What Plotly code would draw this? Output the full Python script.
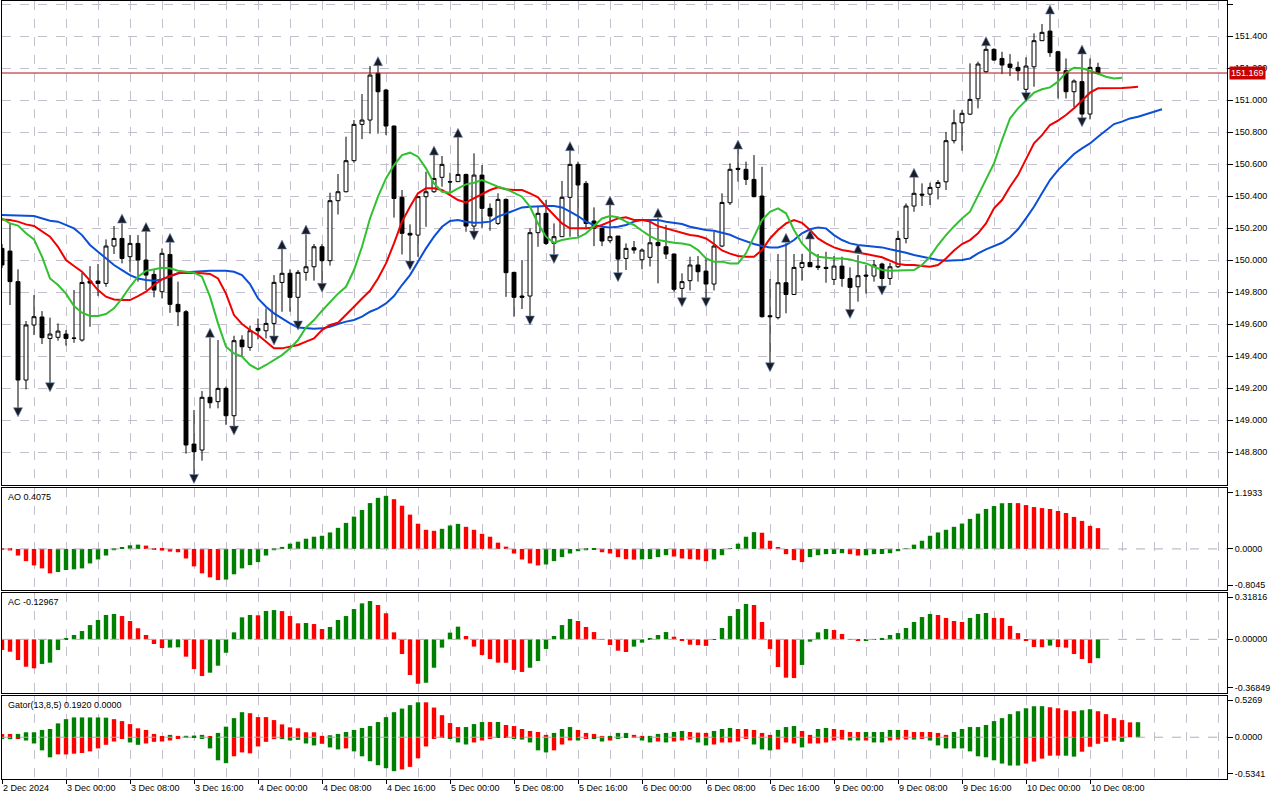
import plotly.graph_objects as go

# ---------------- data ----------------
time_labels = ["2 Dec 2024", "3 Dec 00:00", "3 Dec 08:00", "3 Dec 16:00", "4 Dec 00:00",
               "4 Dec 08:00", "4 Dec 16:00", "5 Dec 00:00", "5 Dec 08:00", "5 Dec 16:00",
               "6 Dec 00:00", "6 Dec 08:00", "6 Dec 16:00", "9 Dec 00:00", "9 Dec 08:00",
               "9 Dec 16:00", "10 Dec 00:00", "10 Dec 08:00"]
time_label_bars = [0, 8, 16, 24, 32, 40, 48, 56, 64, 72, 80, 88, 96, 104, 112, 120, 128, 136]

opens = [150.073, 150.056, 149.865, 149.25, 149.594, 149.644, 149.51, 149.517, 149.537, 149.51,
         149.50, 149.869, 149.869, 149.854, 150.0875, 150.135, 150.021, 150.104, 150.0, 149.91,
         149.802, 150.035, 149.723, 149.677, 148.85, 148.8125, 149.142, 149.115, 149.198, 149.027,
         149.5, 149.454, 149.573, 149.558, 149.604, 149.86, 149.917, 149.767, 149.923, 149.958,
         150.083, 149.996, 150.371, 150.427, 150.621, 150.848, 150.875, 151.167, 151.0625, 150.8375,
         150.392, 150.167, 150.156, 150.396, 150.427, 150.517, 150.49, 150.49, 150.535, 150.2125,
         150.531, 150.323, 150.229, 150.379, 149.923, 149.775, 149.775, 150.171, 150.292, 150.104,
         150.146, 150.392, 150.598, 150.479, 150.244, 150.198, 150.121, 150.15, 150.01, 150.077,
         150.002, 150.017, 150.11, 150.083, 150.0375, 149.823, 149.871, 149.969, 149.931, 149.85,
         150.0875, 150.358, 150.573, 150.567, 150.504, 150.4, 149.652, 149.64, 149.858, 149.785,
         149.954, 149.985, 149.962, 149.954, 149.879, 149.962, 149.885, 149.833, 149.906, 149.9,
         149.975, 149.885, 149.958, 150.135, 150.3375, 150.412, 150.412, 150.454, 150.489, 150.746,
         150.858, 150.912, 151.008, 151.177, 151.317, 151.26, 151.225, 151.204, 151.067, 151.208,
         151.371, 151.431, 151.302, 151.183, 151.052, 151.115, 150.9125, 151.204]
highs = [150.10, 150.229, 149.942, 149.619, 149.781, 149.681, 149.64, 149.604, 149.5625, 149.8125,
         149.92, 149.962, 149.975, 150.129, 150.2125, 150.229, 150.156, 150.156, 150.181, 149.9375,
         150.073, 150.11, 149.865, 149.6875, 149.0625, 149.181, 149.515, 149.5, 149.21, 149.527,
         149.53, 149.5896, 149.635, 149.698, 149.906, 150.073, 149.942, 149.9375, 150.16, 150.1,
         150.1, 150.421, 150.5375, 150.771, 150.875, 151.0375, 151.2125, 151.24, 151.07, 150.84,
         150.4375, 150.223, 150.40, 150.552, 150.66, 150.65, 150.546, 150.771, 150.54, 150.667,
         150.594, 150.354, 150.417, 150.385, 149.925, 150.0, 150.198, 150.333, 150.375, 150.229,
         150.494, 150.6875, 150.615, 150.494, 150.329, 150.2, 150.344, 150.15, 150.104, 150.119,
         150.073, 150.25, 150.27, 150.219, 150.04, 149.917, 150.021, 150.025, 150.01, 150.177,
         150.417, 150.604, 150.698, 150.615, 150.656, 150.583, 149.881, 150.0375, 150.108, 150.0375,
         150.0375, 150.135, 150.0375, 150.052, 150.025, 150.021, 149.954, 150.031, 149.969, 150.0,
         149.983, 149.983, 150.183, 150.354, 150.521, 150.479, 150.483, 150.5, 150.80, 150.94,
         150.937, 151.229, 151.24, 151.344, 151.323, 151.302, 151.287, 151.24, 151.267, 151.417,
         151.475, 151.5375, 151.308, 151.26, 151.129, 151.288, 151.26, 151.233]
lows = [149.95, 149.719, 149.0625, 149.192, 149.531, 149.475, 149.2125, 149.496, 149.465, 149.483,
        149.49, 149.583, 149.775, 149.833, 150.0375, 149.979, 149.927, 149.865, 149.8125, 149.767,
        149.76, 149.67, 149.587, 148.79, 148.615, 148.746, 149.073, 149.073, 148.97, 148.954,
        149.396, 149.433, 149.504, 149.51, 149.51, 149.677, 149.677, 149.604, 149.871, 149.871,
        149.844, 149.965, 150.285, 150.423, 150.608, 150.756, 150.79, 150.79, 150.781, 150.265,
        150.035, 149.979, 150.02, 150.208, 150.42, 150.458, 150.417, 150.49, 150.177, 150.173,
        150.198, 150.183, 150.219, 149.77, 149.646, 149.694, 149.635, 150.083, 150.094, 150.025,
        150.146, 150.146, 150.146, 150.192, 150.087, 150.087, 150.108, 149.91, 149.9375, 150.04,
        149.942, 149.96, 149.854, 150.006, 149.802, 149.76, 149.81, 149.865, 149.76, 149.81,
        150.08, 150.344, 150.49, 150.469, 150.392, 149.64, 149.344, 149.629, 149.667, 149.781,
        149.871, 149.958, 149.9375, 149.858, 149.844, 149.833, 149.677, 149.74, 149.79, 149.865,
        149.823, 149.844, 149.95, 150.104, 150.302, 150.3375, 150.344, 150.379, 150.4375, 150.729,
        150.683, 150.906, 150.948, 151.17, 151.245, 151.162, 151.15, 151.121, 151.031, 151.083,
        151.37, 151.27, 151.01, 151.01, 150.954, 150.879, 150.879, 151.16]
closes = [149.969, 149.865, 149.25, 149.594, 149.646, 149.515, 149.5375, 149.556, 149.51, 149.512,
          149.86, 149.856, 149.854, 150.0875, 150.135, 150.01, 150.104, 150.0, 149.906, 149.8125,
          150.042, 149.723, 149.677, 148.844, 148.802, 149.142, 149.108, 149.198, 149.027, 149.496,
          149.458, 149.558, 149.558, 149.604, 149.8604, 149.917, 149.767, 149.923, 149.958, 150.083,
          149.996, 150.371, 150.427, 150.621, 150.848, 150.875, 151.156, 151.052, 150.8375, 150.385,
          150.167, 150.156, 150.396, 150.427, 150.51, 150.598, 150.488, 150.535, 150.2125, 150.531,
          150.323, 150.275, 150.379, 149.921, 149.767, 149.767, 150.171, 150.292, 150.104, 150.146,
          150.392, 150.598, 150.469, 150.229, 150.198, 150.119, 150.146, 150.006, 150.073, 150.0625,
          150.0625, 150.108, 150.09, 150.0375, 149.817, 149.865, 149.969, 149.927, 149.85, 150.0875,
          150.36, 150.567, 150.567, 150.504, 150.396, 149.646, 149.646, 149.858, 149.785, 149.954,
          149.985, 149.958, 149.954, 149.948, 149.962, 149.885, 149.829, 149.902, 149.9, 149.969,
          149.885, 149.958, 150.135, 150.3375, 150.417, 150.406, 150.454, 150.485, 150.746, 150.858,
          150.917, 151.004, 151.225, 151.317, 151.25, 151.219, 151.204, 151.183, 151.2125, 151.371,
          151.423, 151.296, 151.183, 151.052, 151.119, 150.9125, 151.204, 151.169]

jaw = [150.281, 150.281, 150.279, 150.277, 150.275, 150.26, 150.246, 150.24, 150.219, 150.198,
       150.156, 150.094, 150.052, 150.01, 149.969, 149.9375, 149.906, 149.885, 149.875, 149.871,
       149.879, 149.896, 149.917, 149.923, 149.927, 149.931, 149.933, 149.933, 149.933, 149.927,
       149.906, 149.85, 149.76, 149.708, 149.667, 149.635, 149.604, 149.579, 149.573, 149.571,
       149.573, 149.583, 149.6, 149.615, 149.625, 149.646, 149.677, 149.698, 149.729, 149.775,
       149.844, 149.906, 149.99, 150.073, 150.146, 150.208, 150.244, 150.25, 150.24, 150.233,
       150.235, 150.24, 150.271, 150.292, 150.3125, 150.329, 150.333, 150.3375, 150.3375, 150.3375,
       150.329, 150.302, 150.275, 150.24, 150.219, 150.208, 150.204, 150.208, 150.219, 150.24,
       150.25, 150.25, 150.25, 150.24, 150.233, 150.225, 150.208, 150.198, 150.1875, 150.183,
       150.169, 150.158, 150.135, 150.115, 150.1, 150.0875, 150.079, 150.079, 150.094, 150.125,
       150.167, 150.192, 150.204, 150.198, 150.156, 150.125, 150.104, 150.094, 150.0875, 150.083,
       150.079, 150.067, 150.058, 150.046, 150.031, 150.021, 150.01, 150.0, 149.996, 149.998,
       150.0, 150.01, 150.042, 150.067, 150.0875, 150.108, 150.142, 150.192, 150.26, 150.333,
       150.417, 150.5, 150.562, 150.615, 150.6625, 150.698, 150.729, 150.771, 150.8125, 150.85,
       150.865, 150.885, 150.896, 150.9125, 150.927, 150.942]
teeth = [150.254, 150.25, 150.24, 150.223, 150.2125, 150.177, 150.146, 150.083, 150.0, 149.9625,
         149.927, 149.871, 149.8125, 149.771, 149.754, 149.75, 149.75, 149.775, 149.802, 149.844,
         149.879, 149.9, 149.917, 149.921, 149.921, 149.917, 149.913, 149.885, 149.79, 149.656,
         149.6, 149.5625, 149.531, 149.49, 149.448, 149.448, 149.458, 149.469, 149.49, 149.51,
         149.5625, 149.594, 149.608, 149.656, 149.708, 149.76, 149.808, 149.885, 149.979, 150.104,
         150.24, 150.333, 150.417, 150.448, 150.448, 150.4375, 150.406, 150.375, 150.36, 150.385,
         150.412, 150.4375, 150.454, 150.442, 150.4375, 150.4375, 150.417, 150.392, 150.333, 150.281,
         150.229, 150.198, 150.198, 150.198, 150.204, 150.219, 150.24, 150.26, 150.267, 150.25,
         150.25, 150.24, 150.212, 150.198, 150.183, 150.167, 150.156, 150.15, 150.135, 150.1,
         150.06, 150.04, 150.025, 150.021, 150.021, 150.0625, 150.135, 150.1875, 150.229, 150.25,
         150.233, 150.1875, 150.135, 150.104, 150.079, 150.0625, 150.052, 150.046, 150.0375, 150.025,
         150.017, 149.996, 149.975, 149.969, 149.969, 149.9625, 149.958, 149.969, 150.01, 150.06,
         150.1, 150.125, 150.167, 150.229, 150.323, 150.375, 150.458, 150.531, 150.635, 150.729,
         150.781, 150.844, 150.871, 150.906, 150.948, 151.0, 151.046, 151.073, 151.073, 151.073,
         151.075, 151.079, 151.083]
lips = [150.26, 150.229, 150.215, 150.167, 150.129, 150.021, 149.885, 149.844, 149.79, 149.7125,
        149.671, 149.65, 149.65, 149.6625, 149.698, 149.76, 149.833, 149.896, 149.9325, 149.94,
        149.952, 149.948, 149.933, 149.927, 149.921, 149.896, 149.771, 149.604, 149.458, 149.417,
        149.396, 149.344, 149.317, 149.344, 149.375, 149.406, 149.448, 149.5, 149.579, 149.625,
        149.683, 149.74, 149.79, 149.833, 149.9375, 150.083, 150.26, 150.396, 150.51, 150.594,
        150.656, 150.671, 150.646, 150.573, 150.479, 150.427, 150.42, 150.448, 150.473, 150.483,
        150.5, 150.479, 150.458, 150.444, 150.421, 150.396, 150.333, 150.229, 150.146, 150.108,
        150.125, 150.135, 150.14, 150.167, 150.2125, 150.26, 150.275, 150.267, 150.24, 150.219,
        150.183, 150.15, 150.125, 150.115, 150.108, 150.104, 150.094, 150.0625, 150.01, 149.99,
        149.99, 149.979, 149.979, 150.042, 150.146, 150.25, 150.302, 150.323, 150.292, 150.1875,
        150.104, 150.052, 150.021, 150.015, 150.01, 150.01, 150.004, 149.99, 149.979, 149.958,
        149.9375, 149.933, 149.933, 149.933, 149.9375, 149.969, 150.021, 150.094, 150.156, 150.21,
        150.26, 150.302, 150.406, 150.51, 150.604, 150.75, 150.885, 150.948, 151.0, 151.046,
        151.067, 151.079, 151.115, 151.171, 151.202, 151.198, 151.183, 151.162, 151.146, 151.135,
        151.14]

fractal_up_bars = [15, 18, 21, 26, 35, 38, 47, 54, 57, 71, 76, 82, 92, 98, 101, 107, 114, 123, 131, 135]
fractal_up_price = [150.2875, 150.235, 150.167, 149.573, 150.125, 150.219, 151.271, 150.7125, 150.823, 150.74,
                    150.40, 150.323, 150.75, 150.167, 150.1875, 150.10, 150.573, 151.396, 151.594, 151.344]
fractal_dn_bars = [2, 6, 24, 29, 34, 37, 40, 51, 59, 66, 69, 77, 85, 88, 96, 106, 110, 128, 135]
fractal_dn_price = [149.021, 149.177, 148.604, 148.906, 149.469, 149.5625, 149.798, 149.9375, 150.125, 149.594,
                    149.979, 149.865, 149.708, 149.708, 149.302, 149.635, 149.781, 150.99, 150.833]

ao = [-0.005, -0.03, -0.129, -0.239, -0.323, -0.381, -0.478, -0.452, -0.413, -0.40,
      -0.381, -0.284, -0.207, -0.129, -0.026, 0.019, 0.071, 0.084, 0.065, -0.003,
      -0.032, -0.052, -0.065, -0.187, -0.342, -0.478, -0.556, -0.61, -0.60, -0.497,
      -0.381, -0.317, -0.258, -0.129, -0.026, 0.039, 0.103, 0.142, 0.20, 0.239,
      0.258, 0.323, 0.413, 0.51, 0.633, 0.762, 0.898, 1.001, 1.04, 0.975,
      0.846, 0.672, 0.494, 0.375, 0.355, 0.394, 0.459, 0.491, 0.433, 0.375,
      0.297, 0.239, 0.123, 0.045, -0.09, -0.207, -0.284, -0.323, -0.304, -0.239,
      -0.161, -0.09, -0.045, -0.026, -0.019, -0.065, -0.09, -0.161, -0.2, -0.21,
      -0.205, -0.198, -0.161, -0.123, -0.149, -0.187, -0.2, -0.21, -0.239, -0.207,
      -0.123, 0.003, 0.103, 0.239, 0.329, 0.317, 0.161, 0.026, -0.103, -0.22,
      -0.258, -0.161, -0.123, -0.103, -0.10, -0.084, -0.103, -0.13, -0.125, -0.103,
      -0.10, -0.084, -0.045, 0.003, 0.084, 0.161, 0.258, 0.323, 0.375, 0.433,
      0.497, 0.588, 0.691, 0.782, 0.84, 0.895, 0.90, 0.897, 0.859, 0.82,
      0.80, 0.782, 0.743, 0.704, 0.627, 0.549, 0.452, 0.4075]
ac = [-0.073, -0.085, -0.142, -0.188, -0.199, -0.169, -0.16, -0.073, 0.004, 0.03,
      0.057, 0.098, 0.133, 0.167, 0.174, 0.16, 0.126, 0.076, 0.03, -0.032,
      -0.06, -0.057, -0.055, -0.119, -0.204, -0.252, -0.229, -0.181, -0.092, 0.048,
      0.151, 0.167, 0.165, 0.195, 0.201, 0.194, 0.16, 0.11, 0.112, 0.105,
      0.071, 0.085, 0.133, 0.16, 0.208, 0.247, 0.263, 0.236, 0.179, 0.048,
      -0.101, -0.245, -0.305, -0.298, -0.195, -0.057, 0.046, 0.087, 0.023, -0.05,
      -0.108, -0.135, -0.16, -0.161, -0.21, -0.224, -0.195, -0.149, -0.066, 0.023,
      0.098, 0.14, 0.126, 0.085, 0.05, 0.002, -0.039, -0.078, -0.087, -0.05,
      -0.023, 0.005, 0.03, 0.05, 0.018, -0.011, -0.037, -0.04, -0.045, 0.002,
      0.078, 0.16, 0.208, 0.243, 0.236, 0.119, -0.066, -0.19, -0.263, -0.266,
      -0.176, -0.016, 0.048, 0.071, 0.064, 0.037, -0.002, -0.011, -0.009, 0.002,
      0.009, 0.03, 0.043, 0.078, 0.119, 0.153, 0.174, 0.167, 0.147, 0.126,
      0.119, 0.147, 0.174, 0.181, 0.147, 0.146, 0.092, 0.043, -0.011, -0.053,
      -0.054, -0.043, -0.053, -0.057, -0.101, -0.135, -0.163, -0.12967]

gator_up = [0.04, 0.042, 0.042, 0.063, 0.063, 0.093, 0.105, 0.177, 0.231, 0.253,
            0.253, 0.253, 0.253, 0.25, 0.231, 0.206, 0.168, 0.114, 0.093, 0.042,
            0.008, 0.03, 0.017, 0.018, 0.021, 0.03, 0.008, 0.055, 0.135, 0.244,
            0.32, 0.307, 0.257, 0.257, 0.219, 0.164, 0.126, 0.114, 0.063, 0.063,
            0.017, 0.025, 0.042, 0.067, 0.093, 0.118, 0.143, 0.194, 0.257, 0.32,
            0.366, 0.41, 0.446, 0.446, 0.379, 0.282, 0.181, 0.13, 0.13, 0.168,
            0.194, 0.194, 0.195, 0.156, 0.143, 0.105, 0.08, 0.067, 0.03, 0.055,
            0.105, 0.13, 0.093, 0.055, 0.042, 0.017, 0.017, 0.055, 0.055, 0.03,
            0.017, 0.017, 0.042, 0.055, 0.067, 0.08, 0.067, 0.059, 0.055, 0.08,
            0.105, 0.118, 0.105, 0.105, 0.093, 0.055, 0.03, 0.093, 0.13, 0.143,
            0.08, 0.03, 0.105, 0.118, 0.105, 0.093, 0.067, 0.067, 0.067, 0.067,
            0.067, 0.093, 0.093, 0.093, 0.067, 0.067, 0.067, 0.055, 0.03, 0.067,
            0.105, 0.13, 0.13, 0.156, 0.206, 0.244, 0.295, 0.332, 0.37, 0.396,
            0.397, 0.383, 0.37, 0.345, 0.332, 0.345, 0.358, 0.332, 0.295, 0.244,
            0.219, 0.19, 0.192]
gator_up_colors = ("rrgggggggg" "ggggrrrrrr" "rgrgggrggg" "grrrrrrrrr" "rggggggggg"
                   "gggrrrrrgg" "grgrrrrrrg" "ggrrrrgggr" "rgggggrrrg" "ggrrrrrggg"
                   "rrggrrrrgg" "gggrrrrrrg" "gggggggggg" "grrrrggrrr" "rrg")
gator_dn = [0.02, 0.025, 0.017, 0.042, 0.08, 0.168, 0.257, 0.219, 0.22, 0.21,
            0.202, 0.181, 0.143, 0.097, 0.055, 0.017, 0.067, 0.097, 0.08, 0.059,
            0.055, 0.042, 0.017, 0.008, 0.004, 0.017, 0.143, 0.295, 0.332, 0.244,
            0.194, 0.206, 0.118, 0.059, 0.025, 0.025, 0.042, 0.034, 0.08, 0.105,
            0.084, 0.13, 0.156, 0.143, 0.181, 0.244, 0.307, 0.358, 0.396, 0.434,
            0.412, 0.379, 0.27, 0.118, 0.017, 0.004, 0.017, 0.067, 0.093, 0.067,
            0.042, 0.017, 0.004, 0.008, 0.017, 0.03, 0.067, 0.168, 0.194, 0.168,
            0.093, 0.042, 0.042, 0.017, 0.017, 0.055, 0.042, 0.017, 0.008, 0.008,
            0.042, 0.067, 0.055, 0.067, 0.055, 0.042, 0.03, 0.067, 0.105, 0.093,
            0.067, 0.067, 0.055, 0.017, 0.093, 0.156, 0.168, 0.156, 0.067, 0.08,
            0.13, 0.08, 0.08, 0.067, 0.042, 0.03, 0.042, 0.042, 0.042, 0.067,
            0.067, 0.042, 0.03, 0.03, 0.03, 0.017, 0.042, 0.105, 0.143, 0.143,
            0.143, 0.181, 0.244, 0.257, 0.295, 0.337, 0.362, 0.362, 0.337, 0.311,
            0.274, 0.236, 0.235, 0.236, 0.248, 0.185, 0.122, 0.084, 0.059, 0.042,
            0.059]
gator_dn_colors = ("ggrggggrrr" "rrrrrrggrr" "rrrrrggggr" "rrrrrggggg" "rggrgggggg"
                   "rrrrrrgggr" "rrrggggggr" "rrgrggrgrr" "ggrgrrrggr" "rrrrgggrrr"
                   "grrrrrggrg" "grrrgrgggg" "ggggggggrr" "rrrggrrrrr" "g")

ao_range = [-0.8045, 1.1933]
ac_range = [-0.36849, 0.31816]
gator_range = [-0.5341, 0.5269]
price_range = [148.594, 151.619]
price_ticks = [148.8, 149.0, 149.2, 149.4, 149.6, 149.8, 150.0, 150.2, 150.4, 150.6, 150.8, 151.0, 151.2, 151.4, 151.6]
last_price = 151.169

# ---------------- styling ----------------
GREEN = "#008000"
RED = "#ff0000"
GRID = "#c3bfcc"
FONT = "Liberation Sans"
FS = 9
W, H = 1280, 800
ML, MR, MT, MB = 2, 53, 1, 21
PH = H - MT - MB


def py(ypx):
    return (H - MB - ypx) / PH


def rise_colors(vals):
    out = [RED]
    for i in range(1, len(vals)):
        out.append(GREEN if vals[i] > vals[i - 1] else RED)
    return out


def flag_colors(flags):
    return [GREEN if c == "g" else RED for c in flags]


fig = go.Figure()

bars = list(range(len(opens)))
fig.add_trace(go.Candlestick(
    x=bars, open=opens, high=highs, low=lows, close=closes,
    increasing=dict(line=dict(color="black", width=1), fillcolor="white"),
    decreasing=dict(line=dict(color="black", width=1), fillcolor="black"),
    whiskerwidth=0, xaxis="x", yaxis="y", showlegend=False, hoverinfo="skip"))

for vals, col in [(jaw, "#0b4fd8"), (teeth, "#f00000"), (lips, "#30c030")]:
    fig.add_trace(go.Scatter(x=list(range(len(vals))), y=vals, mode="lines",
                             line=dict(color=col, width=2), xaxis="x", yaxis="y",
                             showlegend=False, hoverinfo="skip"))

fig.add_trace(go.Scatter(x=fractal_up_bars, y=fractal_up_price, mode="markers",
                         marker=dict(symbol="arrow-up", size=9, color="#1c1c24",
                                     line=dict(color="#6a8cc0", width=0.6)),
                         xaxis="x", yaxis="y", showlegend=False, hoverinfo="skip"))
fig.add_trace(go.Scatter(x=fractal_dn_bars, y=fractal_dn_price, mode="markers",
                         marker=dict(symbol="arrow-down", size=9, color="#1c1c24",
                                     line=dict(color="#6a8cc0", width=0.6)),
                         xaxis="x", yaxis="y", showlegend=False, hoverinfo="skip"))

fig.add_trace(go.Bar(x=list(range(len(ao))), y=ao, marker=dict(color=rise_colors(ao), line=dict(width=0)),
                     width=0.55, xaxis="x2", yaxis="y2", showlegend=False, hoverinfo="skip"))
fig.add_trace(go.Bar(x=list(range(len(ac))), y=ac, marker=dict(color=rise_colors(ac), line=dict(width=0)),
                     width=0.55, xaxis="x3", yaxis="y3", showlegend=False, hoverinfo="skip"))
fig.add_trace(go.Bar(x=list(range(len(gator_up))), y=gator_up,
                     marker=dict(color=flag_colors(gator_up_colors), line=dict(width=0)),
                     width=0.55, xaxis="x4", yaxis="y4", showlegend=False, hoverinfo="skip"))
fig.add_trace(go.Bar(x=list(range(len(gator_dn))), y=[-v for v in gator_dn],
                     marker=dict(color=flag_colors(gator_dn_colors), line=dict(width=0)),
                     width=0.55, xaxis="x4", yaxis="y4", showlegend=False, hoverinfo="skip"))

xmax = (W - ML - MR) / 8.0
xcommon = dict(range=[0, xmax], showgrid=True, gridcolor=GRID, griddash="dash", gridwidth=1,
               tickmode="array", tickvals=time_label_bars, zeroline=False, automargin=False,
               minor=dict(tick0=0, dtick=4, showgrid=True, gridcolor=GRID, griddash="dash", gridwidth=1),
               showline=True, linecolor="black", linewidth=1, mirror=True,
               rangeslider=dict(visible=False), fixedrange=True)

domains = {"y": [py(485), 1.0], "y2": [py(590), py(488)], "y3": [py(693), py(593)], "y4": [0.0, py(696)]}

layout = dict(
    width=W, height=H, margin=dict(l=ML, r=MR, t=MT, b=MB, autoexpand=False),
    paper_bgcolor="white", plot_bgcolor="white",
    font=dict(family=FONT, size=FS, color="black"),
    barmode="overlay", showlegend=False, hovermode=False,
)
for i, ax in enumerate(["xaxis", "xaxis2", "xaxis3", "xaxis4"]):
    d = dict(xcommon)
    d["anchor"] = ["y", "y2", "y3", "y4"][i]
    if i > 0:
        d["matches"] = "x"
    if i == 3:
        d.update(ticktext=time_labels, showticklabels=True, ticks="outside", ticklen=4,
                 tickcolor="black", ticklabelposition="outside right", tickangle=0,
                 tickfont=dict(family=FONT, size=FS, color="black"))
    else:
        d.update(showticklabels=False, ticks="")
    layout[ax] = d

layout["yaxis"] = dict(domain=domains["y"], anchor="x", side="right", range=price_range,
                       tickmode="array", tickvals=price_ticks, ticktext=["%.3f" % v for v in price_ticks],
                       showgrid=True, gridcolor=GRID, griddash="dash", zeroline=False, automargin=False,
                       showline=True, linecolor="black", mirror=True, ticks="outside", ticklen=5,
                       tickcolor="black", fixedrange=True, tickfont=dict(family=FONT, size=FS))


def ind_axis(dom, anchor, rng, labels, label_pos):
    return dict(domain=dom, anchor=anchor, side="right", range=rng, tickmode="array",
                tickvals=label_pos, ticktext=labels, showgrid=False, zeroline=False, automargin=False,
                showline=True, linecolor="black", mirror=True, ticks="outside", ticklen=5,
                tickcolor="black", fixedrange=True, tickfont=dict(family=FONT, size=FS))


layout["yaxis2"] = ind_axis(domains["y2"], "x2", ao_range, ["1.1933", "0.0000", "-0.8045"],
                            [1.1013, 0.0, -0.7066])
layout["yaxis3"] = ind_axis(domains["y3"], "x3", ac_range, ["0.31816", "0.00000", "-0.36849"],
                            [0.2886, 0.0, -0.3321])
layout["yaxis4"] = ind_axis(domains["y4"], "x4", gator_range, ["0.5269", "0.0000", "-0.5341"],
                            [0.4719, 0.0, -0.4663])

shapes = [dict(type="line", xref="x domain", x0=0, x1=1, yref="y", y0=last_price, y1=last_price,
               line=dict(color="#b01010", width=1), layer="above")]
for yr in ["y2", "y3", "y4"]:
    shapes.append(dict(type="line", xref="x domain", x0=0, x1=1, yref=yr, y0=0, y1=0,
                       line=dict(color="#b8a8b8", width=1, dash="dash"), layer="above"))
layout["shapes"] = shapes

layout["annotations"] = [
    dict(xref="paper", yref="y", x=1.0, y=last_price, xanchor="left", yanchor="middle", xshift=2,
         text="151.169", showarrow=False, bgcolor="#c80000", font=dict(color="white", size=FS, family=FONT),
         borderpad=1),
    dict(xref="paper", yref="paper", x=4 / (W - ML - MR), y=py(497), xanchor="left", yanchor="middle",
         text="AO 0.4075", showarrow=False, font=dict(size=FS, family=FONT, color="black")),
    dict(xref="paper", yref="paper", x=4 / (W - ML - MR), y=py(602), xanchor="left", yanchor="middle",
         text="AC -0.12967", showarrow=False, font=dict(size=FS, family=FONT, color="black")),
    dict(xref="paper", yref="paper", x=4 / (W - ML - MR), y=py(705), xanchor="left", yanchor="middle",
         text="Gator(13,8,5) 0.1920 0.0000", showarrow=False, font=dict(size=FS, family=FONT, color="black")),
]

fig.update_layout(**layout)
fig.write_html("out.html", config={"displayModeBar": False},
               post_script="document.body.style.margin='0';document.body.style.overflow='hidden';")
